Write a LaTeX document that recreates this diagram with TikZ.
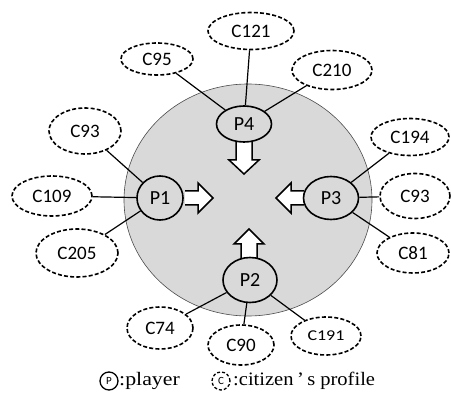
\documentclass[tikz,border=0pt]{standalone}
\usepackage{fontspec}
\setmainfont{Liberation Serif}
\newfontfamily\labfont{Carlito}
\usetikzlibrary{shapes.geometric}
\definecolor{bggray}{RGB}{217,217,217}
\begin{document}
\begin{tikzpicture}[x=1pt,y=-1pt,
  pnode/.style={ellipse,draw,line width=1.6pt,fill=bggray,inner sep=0pt,font=\labfont\fontsize{20}{20}\selectfont},
  cnode/.style={ellipse,draw,line width=1.6pt,dash pattern=on 4pt off 2.2pt,fill=white,inner sep=0pt,font=\labfont\fontsize{19}{19}\selectfont},
  link/.style={line width=1.2pt},
  barrow/.style={draw,line width=1.5pt,fill=white,line join=miter},
  legtext/.style={anchor=west,inner sep=0pt,font=\fontsize{19}{19}\selectfont}]
\useasboundingbox (0,0) rectangle (451,393);
% arena
\draw[fill=bggray,draw=black!70,line width=0.6pt] (248,200) ellipse [x radius=124,y radius=116];
% block arrows
\draw[barrow] (236,142) -- (236,160) -- (229,160) -- (244,174) -- (259,160) -- (252,160) -- (252,142);
\draw[barrow] (185,191) -- (198,191) -- (198,183) -- (213,198) -- (198,213) -- (198,205) -- (185,205);
\draw[barrow] (304,191) -- (291,191) -- (291,183) -- (276,198) -- (291,213) -- (291,205) -- (304,205);
\draw[barrow] (241,258) -- (241,244) -- (234,244) -- (249,229) -- (264,244) -- (257,244) -- (257,258);
% players
\node[pnode,minimum width=55pt,minimum height=36pt] (p4) at (244,124) {P4};
\node[pnode,minimum width=46pt,minimum height=44pt] (p1) at (160,198) {P1};
\node[pnode,minimum width=55pt,minimum height=43pt] (p3) at (331,198) {P3};
\node[pnode,minimum width=54pt,minimum height=45pt] (p2) at (250,280) {P2};
% citizens
\node[cnode,minimum width=86pt,minimum height=37pt] (c121) at (251,31) {C121};
\node[cnode,minimum width=72pt,minimum height=32pt] (c95) at (157,59) {C95};
\node[cnode,minimum width=80pt,minimum height=39pt] (c210) at (332,70) {C210};
\node[cnode,minimum width=72pt,minimum height=46pt] (c93l) at (85,131) {C93};
\node[cnode,minimum width=78pt,minimum height=37pt] (c194) at (410,137) {C194};
\node[cnode,minimum width=80pt,minimum height=40pt] (c109) at (52,196) {C109};
\node[cnode,minimum width=70pt,minimum height=45pt] (c93r) at (415,196) {C93};
\node[cnode,minimum width=82pt,minimum height=48pt] (c205) at (77,253) {C205};
\node[cnode,minimum width=72pt,minimum height=40pt] (c81) at (413,253) {C81};
\node[cnode,minimum width=66pt,minimum height=42pt] (c74) at (160,328) {C74};
\node[cnode,minimum width=66pt,minimum height=40pt] (c90) at (241,345) {C90};
\node[cnode,minimum width=70pt,minimum height=38pt,font=\labfont\fontsize{15}{15}\selectfont] (c191) at (326,336) {\scalebox{1.2}[1]{C191}};
% links
\draw[link] (c95) -- (p4);
\draw[link] (c121) -- (p4);
\draw[link] (c210) -- (p4);
\draw[link] (c93l) -- (p1);
\draw[link] (c109) -- (p1);
\draw[link] (c205) -- (p1);
\draw[link] (c194) -- (p3);
\draw[link] (c93r) -- (p3);
\draw[link] (c81) -- (p3);
\draw[link] (c74) -- (p2);
\draw[link] (c90) -- (p2);
\draw[link] (c191) -- (p2);
% legend
\node[circle,draw,line width=1.3pt,inner sep=0pt,minimum size=18pt,font=\labfont\fontsize{11}{11}\selectfont] (lp) at (109,381) {P};
\node[legtext] (lpt) at (119,381) {\scalebox{1.15}[1]{:player}};
\node[circle,draw,line width=1.3pt,dash pattern=on 3pt off 2pt,inner sep=0pt,minimum size=18pt,font=\labfont\fontsize{11}{11}\selectfont] (lc) at (221,381) {C};
\node[legtext] (lct) at (233,381) {\scalebox{1.08}[1]{:citizen\,’\,s profile}};
\end{tikzpicture}
\end{document}
